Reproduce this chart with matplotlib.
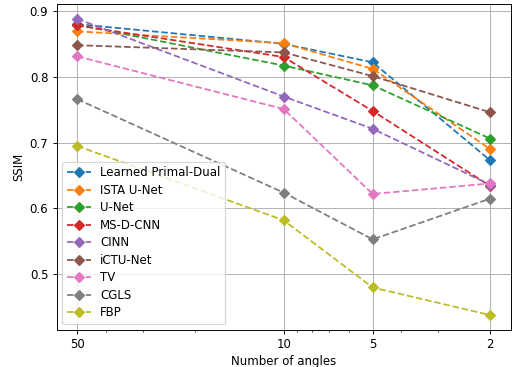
import matplotlib
matplotlib.use("Agg")
import matplotlib.pyplot as plt

# SSIM per method vs. number of projection angles
angles = [50, 10, 5, 2]

methods = ["Learned Primal-Dual", "ISTA U-Net", "U-Net", "MS-D-CNN", "CINN",
           "iCTU-Net", "TV", "CGLS", "FBP"]

ssim_lpd = [0.880, 0.850, 0.822, 0.673]
ssim_ista = [0.869, 0.851, 0.812, 0.690]
ssim_unet = [0.879, 0.817, 0.787, 0.706]
ssim_msd = [0.878, 0.830, 0.748, 0.634]
ssim_cinn = [0.888, 0.770, 0.721, 0.636]
ssim_ictu = [0.848, 0.837, 0.801, 0.746]
ssim_tv = [0.831, 0.751, 0.622, 0.638]
ssim_cgls = [0.766, 0.624, 0.553, 0.615]
ssim_fbp = [0.695, 0.582, 0.480, 0.438]

series = [ssim_lpd, ssim_ista, ssim_unet, ssim_msd, ssim_cinn,
          ssim_ictu, ssim_tv, ssim_cgls, ssim_fbp]

DPI = 85
fig = plt.figure(figsize=(514 / DPI, 367 / DPI), dpi=DPI)
ax = fig.add_axes([0.110, 0.101, 0.884, 0.888])

for name, vals in zip(methods, series):
    ax.plot(angles, vals, "--", marker="D", label=name)

ax.set_xscale("log")
ax.set_xticks(angles)
ax.set_xticklabels([str(a) for a in angles])
ax.invert_xaxis()
ax.grid(True, which="major")
ax.set_xlabel("Number of angles", labelpad=3)
ax.set_ylabel("SSIM")
ax.legend(loc="lower left", labelspacing=0.38)

fig.savefig("out.png", dpi=DPI)
